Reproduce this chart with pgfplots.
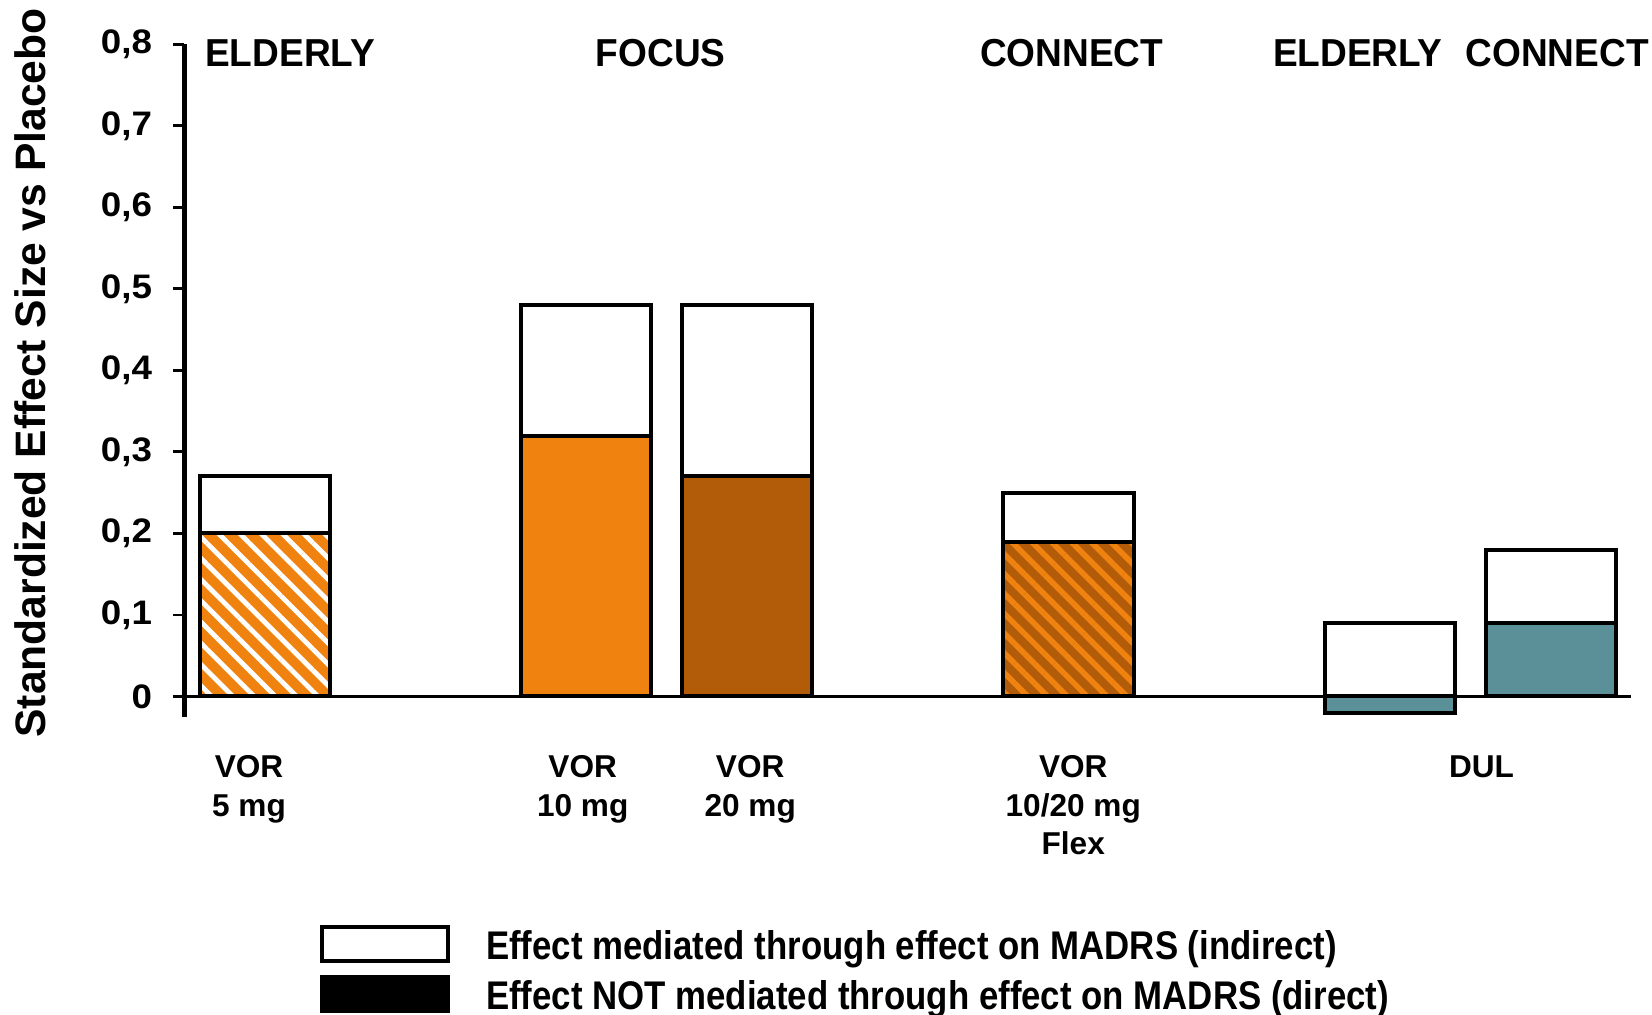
\documentclass[border=0pt]{standalone}
\usepackage{fontspec}
\setmainfont{Liberation Sans}
\newfontfamily\tickfont{Liberation Sans}[FakeStretch=1.08]
\newfontfamily\grpfont{Liberation Sans}[FakeStretch=0.95]
\newfontfamily\ylabfont{Liberation Sans}
\newfontfamily\legfont{Liberation Sans}[FakeStretch=0.87]
\usepackage{pgfplots}
\pgfplotsset{compat=1.18}
\usetikzlibrary{patterns.meta}

\definecolor{vorA}{HTML}{F0820F}
\definecolor{vorB}{HTML}{B25C0A}
\definecolor{dul}{HTML}{5B9099}

\begin{document}
\begin{tikzpicture}[x=0.5pt,y=-0.5pt]
\path[use as bounding box] (0,0) rectangle (1652,1015);
\coordinate (axorigin) at (184.4,716.8);
\begin{axis}[
  at={(axorigin)}, anchor=south west,
  scale only axis, width=723.3pt, height=336.25pt,
  xmin=-0.5, xmax=8.5, ymin=-0.025, ymax=0.8,
  axis x line*=middle, axis y line*=left,
  axis line style={-, line width=2.2pt},
  x axis line style={line width=1.6pt},
  xtick=\empty,
  ytick={0,0.1,0.2,0.3,0.4,0.5,0.6,0.7,0.8},
  tick align=outside, major tick length=5.5pt,
  tick style={line width=1.4pt, black},
  yticklabel style={font=\tickfont\bfseries\fontsize{17}{18}\selectfont,
    inner sep=0pt, xshift=-10.5pt},
  /pgf/number format/.cd, fixed, precision=1, use comma, assume math mode=true,
  /pgfplots/.cd,
  ybar, bar width=0.81, bar shift=0pt,
  axis on top, clip=false,
  every axis plot/.append style={draw=black, line width=2pt},
]
% total effect (white box); the direct part is drawn over its lower end
\addplot[fill=white] coordinates {(0,0.27) (2,0.48) (3,0.48) (5,0.25) (7,0.09) (8,0.18)};
% direct effects
\addplot[preaction={fill=vorA}, pattern={Lines[angle=-45,distance=7.5pt,line width=2.4pt]},
  pattern color=white] coordinates {(0,0.20)};
\addplot[fill=vorA] coordinates {(2,0.32)};
\addplot[fill=vorB] coordinates {(3,0.27)};
\addplot[preaction={fill=vorB}, pattern={Lines[angle=-45,distance=7pt,line width=2.8pt]},
  pattern color=vorA] coordinates {(5,0.19)};
\addplot[fill=dul] coordinates {(7,-0.02)};
\addplot[fill=dul] coordinates {(8,0.09)};

% study names
\begin{scope}[every node/.style={font=\grpfont\bfseries\fontsize{19.5}{22}\selectfont, inner sep=0pt}]
\node at (axis cs:0.157,0.7897) {ELDERLY};
\node at (axis cs:2.463,0.7897) {FOCUS};
\node at (axis cs:5.02,0.7897) {CONNECT};
\node at (axis cs:6.80,0.7897) {ELDERLY};
\node at (axis cs:8.04,0.7897) {CONNECT};
\end{scope}

% treatment labels
\begin{scope}[every node/.style={font=\bfseries\fontsize{15.8}{19.25}\selectfont,
  inner sep=0pt, anchor=north, align=center}]
\node at (axis cs:-0.098,-0.0719) {VOR\\5 mg};
\node at (axis cs:1.978,-0.0719) {VOR\\10 mg};
\node at (axis cs:3.02,-0.0719) {VOR\\20 mg};
\node at (axis cs:5.03,-0.0719) {VOR\\10/20 mg\\Flex};
\node at (axis cs:7.57,-0.0719) {DUL};
\end{scope}
\end{axis}

% y axis title
\node[rotate=90, anchor=base, inner sep=0pt,
  font=\ylabfont\bfseries\fontsize{21.3}{24}\selectfont] at (45,373)
  {Standardized Effect Size vs Placebo};

% legend
\draw[line width=2pt, fill=white] (322.4,927) rectangle (447.8,961);
\draw[line width=2pt, fill=black] (322.4,977) rectangle (447.8,1011);
\begin{scope}[every node/.style={anchor=base west, inner sep=0pt,
  font=\legfont\bfseries\fontsize{20}{24}\selectfont}]
\node at (485.7,959) {Effect mediated through effect on MADRS (indirect)};
\node at (485.7,1009) {Effect NOT mediated through effect on MADRS (direct)};
\end{scope}
\end{tikzpicture}
\end{document}
